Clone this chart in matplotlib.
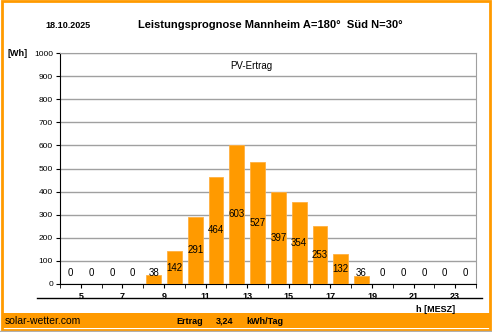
import matplotlib.pyplot as plt
import numpy as np

plt.rcParams['font.family'] = ['Liberation Sans', 'DejaVu Sans']

# hourly forecast, each bar is the hour ending at h+1
hours = np.arange(4, 24)
ertrag = [0, 0, 0, 0, 38, 142, 291, 464, 603, 527,
          397, 354, 253, 132, 36, 0, 0, 0, 0, 0]
xticks = [5, 7, 9, 11, 13, 15, 17, 19, 21, 23]
yticks = [0, 100, 200, 300, 400, 500, 600, 700, 800, 900, 1000]

datum = "18.10.2025"
titel = "Leistungsprognose Mannheim A=180°  Süd N=30°"
summe = "3,24"

orange = "#FF9A00"
W, H = 492, 332


def fx(x):
    return x / W


def fy(y):
    return 1 - y / H


fig = plt.figure(figsize=(W / 100, H / 100), dpi=100)

# outer orange frame + footer band
fig.patches.append(plt.Rectangle((fx(2), fy(330)), fx(488), (330 - 1) / H, transform=fig.transFigure,
                                 fill=False, edgecolor=orange, linewidth=2))
fig.patches.append(plt.Rectangle((fx(2), fy(328)), fx(488), 15 / H, transform=fig.transFigure,
                                 facecolor=orange, edgecolor="none"))
fig.lines.append(plt.Line2D([fx(0), fx(492)], [fy(331), fy(331)], transform=fig.transFigure,
                            color="#b0b0b0", linewidth=1))

ax = fig.add_axes([fx(60), fy(284), fx(476 - 60), (284 - 53) / H])
ax.bar(hours + 0.5, ertrag, width=0.72, color=orange, edgecolor="#FFB040", linewidth=0.6, zorder=3)
for h, v in zip(hours, ertrag):
    ax.text(h + 0.5, max(v / 2, 47), str(v), ha="center", va="center", fontsize=7, color="black", zorder=4)

ax.set_xlim(4, 24)
ax.set_ylim(0, 1000)
ax.set_yticks(yticks)
ax.set_xticks(xticks)
ax.set_xticks(np.arange(4, 25), minor=True)
ax.tick_params(axis="y", direction="out", length=3, labelsize=6, pad=2)
ax.tick_params(axis="x", which="both", direction="out", length=3, labelsize=6.5, pad=3)
for lab in ax.get_xticklabels():
    lab.set_fontweight("bold")
ax.grid(axis="y", color="#a0a0a0", linewidth=1, zorder=0)
ax.set_axisbelow(True)
for s in ["top", "right"]:
    ax.spines[s].set_color("#a0a0a0")
ax.spines["left"].set_color("black")
ax.spines["bottom"].set_color("black")

ax.text(0.46, 0.965, "PV-Ertrag", transform=ax.transAxes, ha="center", va="top", fontsize=7)

fig.text(fx(68), fy(26), datum, ha="center", va="center", fontsize=6.5, fontweight="bold")
fig.text(fx(270), fy(25), titel, ha="center", va="center", fontsize=8, fontweight="bold")
fig.text(fx(8), fy(53), "[Wh]", ha="left", va="center", fontsize=6.5, fontweight="bold")
fig.lines.append(plt.Line2D([fx(37), fx(482)], [fy(298), fy(298)], transform=fig.transFigure,
                            color="black", linewidth=1))
fig.text(fx(436), fy(309), "h [MESZ]", ha="center", va="center", fontsize=6.5, fontweight="bold")

fig.text(fx(5), fy(321), "solar-wetter.com", ha="left", va="center", fontsize=7.5)
fig.text(fx(176), fy(321), "Ertrag", ha="left", va="center", fontsize=6.5, fontweight="bold")
fig.text(fx(216), fy(321), summe, ha="left", va="center", fontsize=6.5, fontweight="bold")
fig.text(fx(246), fy(321), "kWh/Tag", ha="left", va="center", fontsize=6.5, fontweight="bold")

fig.savefig("out.png", dpi=100)
